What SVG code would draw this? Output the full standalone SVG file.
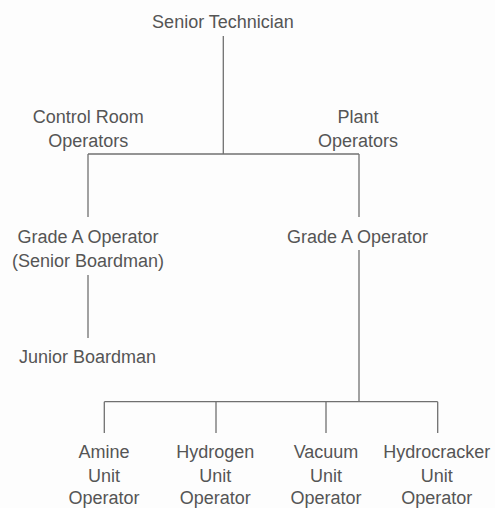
<svg xmlns="http://www.w3.org/2000/svg" width="495" height="508" viewBox="0 0 495 508">
<style>
text{font-family:"Liberation Sans",Arial,sans-serif;font-size:18px;fill:#555555;text-anchor:middle}
.c line{stroke:#707070;stroke-width:1.3;fill:none}
</style>
<rect width="495" height="508" fill="#fdfdfd"/>
<g class="c" id="connectors">
<line x1="223.3" y1="36" x2="223.3" y2="154"/>
<line x1="88" y1="154" x2="359" y2="154"/>
<line x1="88" y1="154" x2="88" y2="217"/>
<line x1="359" y1="154" x2="359" y2="217"/>
<line x1="88" y1="275" x2="88" y2="338"/>
<line x1="359" y1="250" x2="359" y2="401.7"/>
<line x1="104.3" y1="401.7" x2="437.7" y2="401.7"/>
<line x1="104.3" y1="401.7" x2="104.3" y2="433"/>
<line x1="216" y1="401.7" x2="216" y2="433"/>
<line x1="326" y1="401.7" x2="326" y2="433"/>
<line x1="437.7" y1="401.7" x2="437.7" y2="433"/>
</g>
<g id="senior-technician"><text x="223" y="27.5">Senior Technician</text></g>
<g id="control-room-operators"><text x="88.3" y="123">Control Room</text><text x="88.3" y="147">Operators</text></g>
<g id="plant-operators"><text x="358" y="123">Plant</text><text x="358" y="147">Operators</text></g>
<g id="grade-a-left"><text x="88" y="242.7">Grade A Operator</text><text x="88" y="266.7">(Senior Boardman)</text></g>
<g id="grade-a-right"><text x="357.5" y="242.7">Grade A Operator</text></g>
<g id="junior-boardman"><text x="87.5" y="362.7">Junior Boardman</text></g>
<g id="amine"><text x="104" y="458.3">Amine</text><text x="104" y="481.5">Unit</text><text x="104" y="503.5">Operator</text></g>
<g id="hydrogen"><text x="215.3" y="458.3">Hydrogen</text><text x="215.3" y="481.5">Unit</text><text x="215.3" y="503.5">Operator</text></g>
<g id="vacuum"><text x="326" y="458.3">Vacuum</text><text x="326" y="481.5">Unit</text><text x="326" y="503.5">Operator</text></g>
<g id="hydrocracker"><text x="436.7" y="458.3">Hydrocracker</text><text x="436.7" y="481.5">Unit</text><text x="436.7" y="503.5">Operator</text></g>
</svg>
